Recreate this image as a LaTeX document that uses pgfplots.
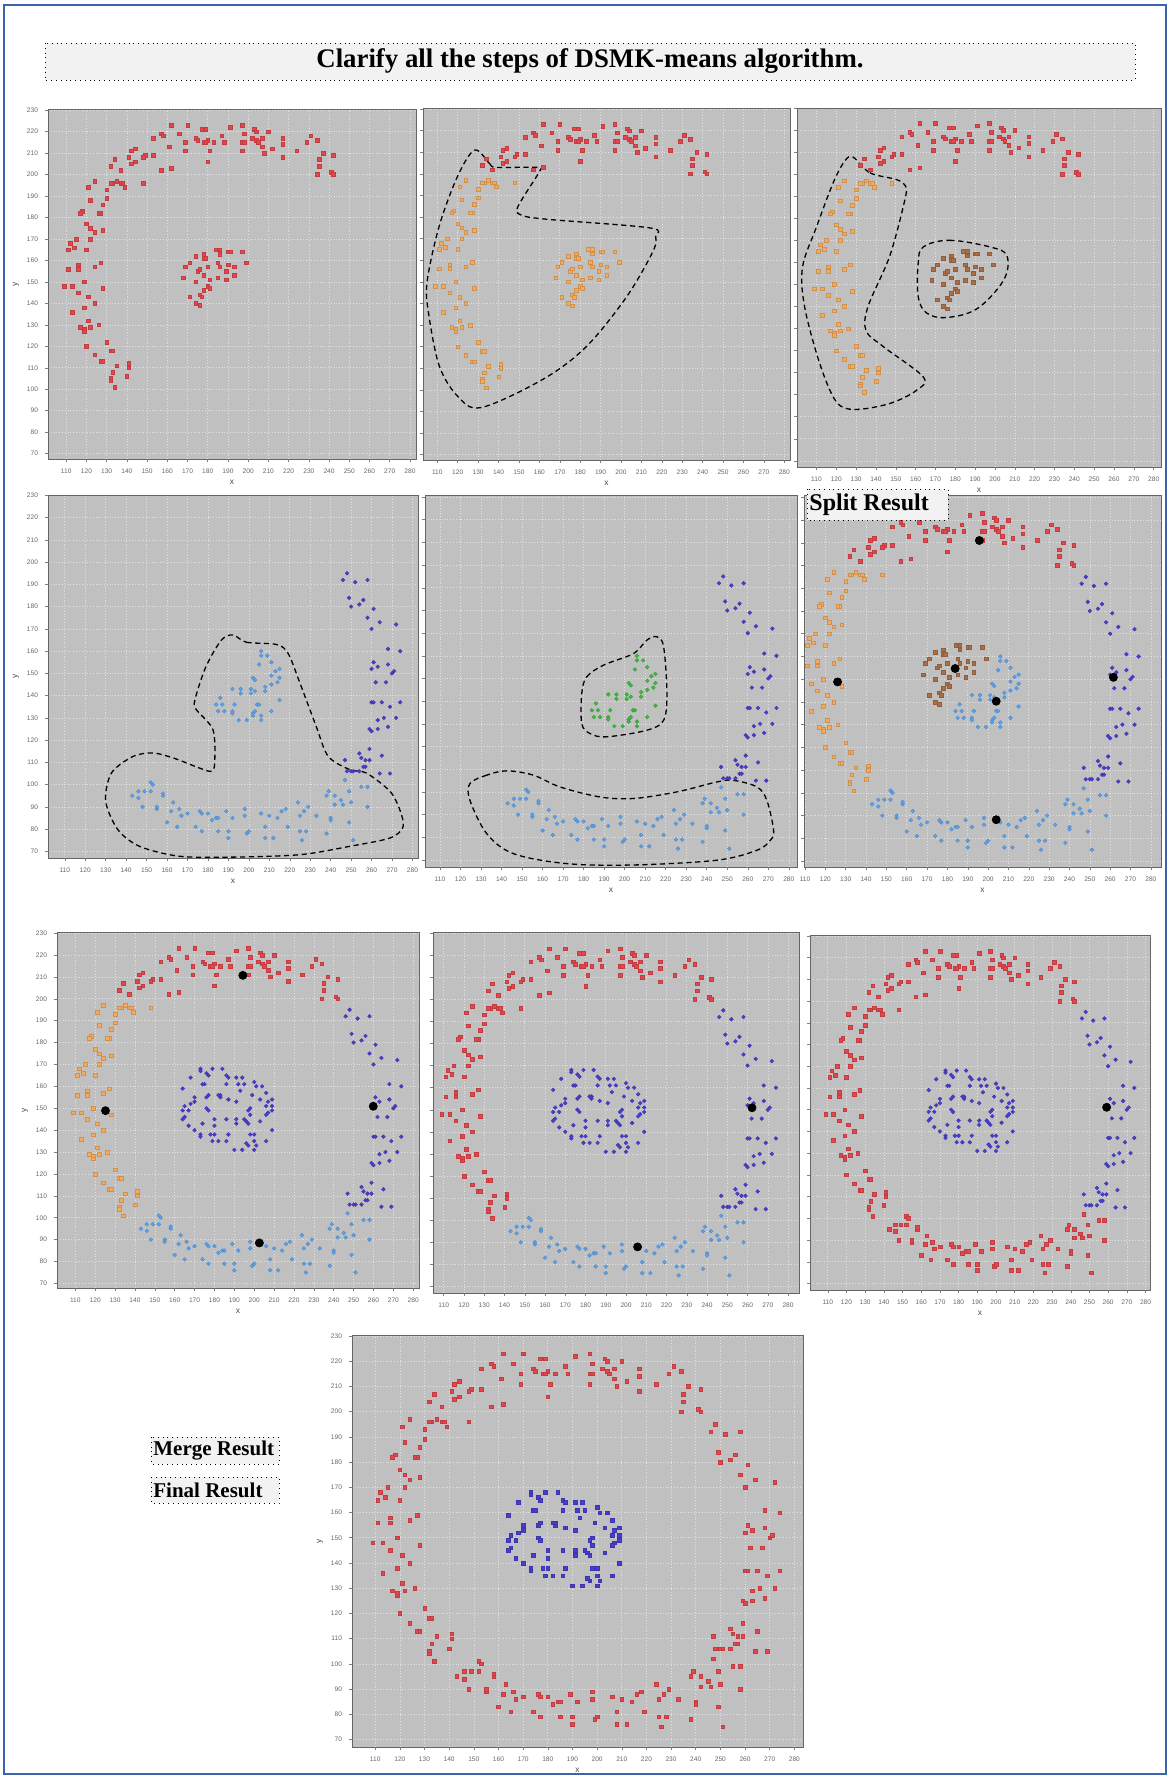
\documentclass[border=0pt]{standalone}
\usepackage{fontspec}
\setmainfont{Liberation Serif}
\newfontfamily\tickfont{Liberation Sans}
\usepackage{pgfplots}
\pgfplotsset{compat=1.18}
\usepackage{pgfplotstable}
\definecolor{bgc}{RGB}{192,192,192}
\definecolor{cred}{RGB}{228,70,78}
\definecolor{corange}{RGB}{245,170,92}
\definecolor{cbrown}{RGB}{172,110,70}
\definecolor{clblue}{RGB}{92,162,236}
\definecolor{cdblue}{RGB}{72,62,205}
\definecolor{cgreen}{RGB}{62,186,62}
\definecolor{frameblue}{RGB}{60,100,170}

% top arc
\pgfplotstableread{
x y
162 223
170 223
197 223
157 219
158 218
153 217
166 219
177 221
179 221
174 217
175 216
169 215
169 211
161 213
157 202
162 203
153 209
149 209
148 208
144 212
142 211
141 208
144 206
142 205
134 207
132 204
137 202
178 215
180 216
179 215
183 215
181 211
180 206
187 218
188 215
191 222
198 219
197 215
198 215
197 211
202 217
203 221
204 220
204 216
205 215
207 217
207 213
208 210
210 220
212 212
217 214
217 217
217 208
224 211
229 215
231 218
234 216
237 210
235 207
235 204
234 200
242 209
241 201
242 200
}\tabA
% left arc
\pgfplotstableread{
x y
133 196
132 196
135 197
137 196
138 196
139 194
148 196
124 197
121 194
130 193
130 189
122 188
128 186
127 182
126 182
118 183
117 182
120 177
122 175
124 173
128 174
122 170
115 170
112 168
114 166
111 165
120 165
116 158
116 156
111 156
124 157
127 159
109 148
113 148
119 150
116 145
121 143
128 147
124 140
113 136
119 138
121 132
117 129
119 128
119 127
122 129
126 130
130 122
132 118
133 118
120 120
124 116
127 113
128 113
135 111
133 108
141 112
141 110
132 105
132 104
140 106
134 101
}\tabB
% blob, upper-left part
\pgfplotstableread{
x y
168 152
169 157
171 159
174 162
171 143
174 150
174 140
176 144
177 143
176 139
175 155
176 156
178 163
178 161
179 161
178 153
178 146
180 157
180 148
181 147
181 151
184 165
186 165
186 163
185 159
186 157
185 152
190 164
191 164
189 155
189 151
190 158
193 157
193 153
197 164
199 159
}\tabC
% bottom arc
\pgfplotstableread{
x y
143 95
146 97
146 94
149 97
148 90
152 101
153 100
152 97
155 89
155 90
158 95
158 96
160 83
162 88
163 92
165 81
166 89
167 86
170 87
174 81
176 88
177 87
177 79
180 87
182 84
184 85
185 85
185 79
189 88
190 79
190 76
192 85
198 89
198 86
199 78
200 79
206 87
208 81
208 76
210 86
212 76
214 85
216 88
218 89
219 81
224 92
225 86
225 79
228 79
226 75
227 88
229 90
233 86
238 95
239 97
238 78
240 85
240 84
242 91
242 95
245 93
246 91
247 102
249 97
250 92
249 83
251 75
255 99
258 99
258 90
}\tabD
% blob, lower-right part
\pgfplotstableread{
x y
206 160
206 158
209 158
211 155
205 154
213 151
215 152
211 149
215 148
214 146
211 145
202 148
203 147
208 144
208 142
215 138
192 143
196 143
196 141
201 143
201 141
203 142
186 139
184 136
187 136
185 133
188 133
192 133
192 132
193 136
195 129
199 129
202 132
202 131
203 133
204 136
205 136
206 131
206 129
211 133
}\tabE
% right arc
\pgfplotstableread{
x y
246 192
248 195
252 191
258 192
249 184
250 180
254 181
256 183
258 175
261 179
260 170
264 173
272 172
268 161
274 160
261 155
260 152
263 153
268 154
270 150
271 151
262 146
267 146
260 137
261 137
265 137
269 135
274 137
263 129
266 130
268 126
272 130
259 125
260 124
263 125
259 116
265 113
254 114
255 112
256 108
257 108
257 111
259 111
247 111
248 106
250 106
251 106
254 106
264 105
269 105
}\tabF
% full blob
\pgfplotstableread{
x y
164 159
168 164
173 168
173 167
176 166
177 165
179 168
184 168
174 161
175 161
186 165
187 164
191 164
194 164
192 161
195 161
186 161
193 158
200 162
201 160
204 160
199 156
206 157
203 154
207 153
209 154
206 151
209 151
209 149
207 148
206 147
203 144
209 140
198 150
197 149
198 147
195 145
196 144
197 143
191 145
191 143
186 145
180 145
180 142
178 138
180 138
179 135
182 135
186 135
187 138
190 131
194 131
197 133
196 134
200 135
200 131
201 133
206 135
198 138
200 138
183 155
183 156
182 156
187 154
191 153
176 155
177 156
176 150
177 149
170 155
170 153
168 152
167 149
165 151
164 149
165 146
164 145
167 142
170 140
173 138
173 137
174 143
}\tabG
% centroids
\pgfplotstableread{
x y
195.7 211
126 148.8
183.8 154.7
204 140.3
261.6 150.8
204 88.2
}\cenSplit
\pgfplotstableread{
x y
194.3 210.7
125.2 148.9
259.9 150.9
202.6 88.5
}\cenA
\pgfplotstableread{
x y
262.2 150.9
205.7 87.9
}\cenB
\pgfplotstableread{
x y
259.2 151.1
}\cenC

\pgfplotsset{
 panel/.style={scale only axis, anchor=north west,
  xmin=101, xmax=283, ymin=67.5, ymax=230.5,
  axis background/.style={fill=bgc},
  xtick={110,120,...,280}, ytick={70,80,...,230},
  grid=major, major grid style={white, opacity=0.55, densely dotted, line width=0.3pt},
  tick pos=left, tick align=outside, major tick length=1.5pt,
  tick style={black!50, line width=0.25pt},
  axis line style={black!60, line width=0.4pt},
  tick label style={font=\tickfont\fontsize{3.3}{3.7}\selectfont, text=black!60},
  /pgf/number format/assume math mode=true,
  xlabel={x}, ylabel={y},
  label style={font=\tickfont\fontsize{4.2}{4.6}\selectfont, text=black!70},
  xlabel style={yshift=3.5pt}, ylabel style={yshift=-3pt},
 },
 noy/.style={yticklabel=\empty, ylabel={}},
 sq/.style={only marks, mark=square*, mark size=0.9pt, mark options={draw=#1!85!black, fill=#1, line width=0.2pt}},
 ci/.style={only marks, mark=*, mark size=0.95pt, mark options={draw=#1!85!black, fill=#1, line width=0.2pt}},
 cen/.style={only marks, mark=*, mark size=2pt, mark options={draw=black, fill=black}},
}
\tikzset{contour/.style={black, line width=0.65pt, dash pattern=on 2.6pt off 1.8pt}}

\begin{document}
\begin{tikzpicture}
\useasboundingbox (0,0) rectangle (585pt,-889pt);
\draw[frameblue, line width=0.9pt] (2pt,-2.5pt) rectangle (583pt,-887pt);

% title
\draw[black, dotted, line width=0.4pt, fill={rgb,255:red,242;green,242;blue,242}] (22.5pt,-21.5pt) rectangle (567.5pt,-40pt);
\node[font=\bfseries\fontsize{13.4}{15}\selectfont] at (295pt,-30.75pt) {Clarify all the steps of DSMK-means algorithm.};

% Panel 1
\begin{axis}[panel, at={(24pt,-54.5pt)}, width=184pt, height=175pt]
\addplot[sq=cred] table {\tabA};
\addplot[sq=cred] table {\tabB};
\addplot[sq=cred] table {\tabC};
\end{axis}

% Panel 2
\begin{axis}[panel, noy, at={(211.5pt,-54pt)}, width=183.5pt, height=176pt, xmin=103, xmax=282.8]
\addplot[sq=cred] table {\tabA};
\addplot[sq=corange] table {\tabB};
\addplot[sq=corange] table {\tabC};
\draw[contour] plot[smooth cycle, tension=0.55] coordinates {(128.3,211) (135.7,204.7) (139,203) (159,203) (160,201) (149.6,185) (151,181) (163.5,179) (214,175) (217,171) (215.6,164) (202.7,143) (183,120) (162,105) (131.6,91.8) (120,97) (111,111) (105.8,135) (105,150) (111,176) (120,199)};
\end{axis}

% Panel 3
\begin{axis}[panel, noy, at={(398.5pt,-54pt)}, width=182pt, height=179.5pt, xmin=100.2, xmax=283.7, ymin=67.2, ymax=230]
\addplot[sq=cred] table {\tabA};
\addplot[sq=corange] table {\tabB};
\addplot[sq=cbrown] table {\tabC};
\draw[contour] plot[smooth cycle, tension=0.55] coordinates {(128.5,207.7) (137,200.6) (150.5,197.5) (155,194.5) (154.6,188.5) (147,163) (136,140) (135,129) (143.7,121.8) (163.9,108) (160.5,102) (147,96) (129.4,93.3) (120,96.8) (111.7,114) (104,140) (103,158) (110,176) (118.4,196) (124.3,206)};
\draw[contour] plot[smooth cycle, tension=0.6] coordinates {(163.9,167) (177,170) (197.5,167) (206,163) (204.4,152) (191,139) (175.6,135) (165.6,137) (161.3,144.5) (161.3,159.7)};
\end{axis}

% Panel 4
\begin{axis}[panel, at={(24pt,-247.5pt)}, width=185pt, height=181.5pt, xmin=101.8, xmax=282.7, ymin=67, ymax=230.2]
\addplot[ci=clblue] table {\tabD};
\addplot[ci=clblue] table {\tabE};
\addplot[ci=cdblue] table {\tabF};
\draw[contour] plot[smooth cycle, tension=0.5] coordinates {(192.3,167.3) (198.8,164) (213.5,163) (219.2,159) (225,145.6) (233,126) (238.8,112.7) (249.4,106.7) (257.5,105.2) (269,97) (273.8,88.7) (275.4,81) (269,76) (249,72.2) (225,68.5) (192.3,67.4) (166,67.8) (146.7,72.2) (136,79.7) (130,92.5) (132.8,105.2) (143.4,112.7) (153.2,114.2) (163,112) (176,107.4) (181.7,106) (183.3,109.7) (182.5,124.6) (174.4,133.6) (173.6,138) (179,153) (186.6,165)};
\end{axis}

% Panel 5
\begin{axis}[panel, noy, at={(212.5pt,-247.5pt)}, width=186pt, height=186pt, xmin=102.7, xmax=284, ymin=66.9, ymax=230.9]
\addplot[ci=clblue] table {\tabD};
\addplot[ci=cgreen] table {\tabE};
\addplot[ci=cdblue] table {\tabF};
\draw[contour] plot[smooth cycle, tension=0.55] coordinates {(179.1,143.4) (181.5,150.7) (189.7,155.9) (204.3,161) (210.8,166.9) (215.7,168.4) (219,164) (220.6,143.4) (219,131.6) (210.8,127.2) (191.3,124.3) (183.2,125.7) (179.1,130.1)};
\draw[contour] plot[smooth cycle, tension=0.55] coordinates {(142.5,109.3) (132.8,107.4) (124.6,103.7) (124.6,96.3) (132.8,81.6) (145.8,72.8) (171.8,68.4) (204.3,67.8) (245,69.9) (264.5,74.3) (271,78.7) (272.6,83.1) (269.3,96.3) (264.5,102.2) (253,105.1) (245,104.4) (225.4,100) (204.3,97.1) (187.9,97.8) (168.5,102.2) (155.5,107.4)};
\end{axis}

% Panel 6 (split)
\begin{axis}[panel, noy, at={(402pt,-247.5pt)}, width=178.5pt, height=186pt, xmin=109.5, xmax=285, ymin=67.4, ymax=231]
\addplot[sq=cred] table {\tabA};
\addplot[sq=corange] table {\tabB};
\addplot[sq=cbrown] table {\tabC};
\addplot[ci=clblue] table {\tabD};
\addplot[ci=clblue] table {\tabE};
\addplot[ci=cdblue] table {\tabF};
\addplot[cen] table {\cenSplit};
\end{axis}

% Panel 7
\begin{axis}[panel, at={(28.5pt,-466pt)}, width=181pt, height=178pt, xmin=100.8, xmax=282.9, ymin=67.9, ymax=230.5]
\addplot[sq=cred] table {\tabA};
\addplot[sq=corange] table {\tabB};
\addplot[ci=clblue] table {\tabD};
\addplot[ci=cdblue] table {\tabF};
\addplot[ci=cdblue] table {\tabG};
\addplot[cen] table {\cenA};
\end{axis}

% Panel 8
\begin{axis}[panel, noy, xlabel={}, at={(216.5pt,-466pt)}, width=183pt, height=180.5pt, xmin=104.7, xmax=285.4, ymin=67, ymax=230.5]
\addplot[sq=cred] table {\tabA};
\addplot[sq=cred] table {\tabB};
\addplot[ci=clblue] table {\tabD};
\addplot[ci=cdblue] table {\tabF};
\addplot[ci=cdblue] table {\tabG};
\addplot[cen] table {\cenB};
\end{axis}

% Panel 9
\begin{axis}[panel, noy, at={(405pt,-467.5pt)}, width=170pt, height=177.5pt, xmin=100.5, xmax=282.4, ymin=67, ymax=230.4]
\addplot[sq=cred] table {\tabA};
\addplot[sq=cred] table {\tabB};
\addplot[sq=cred] table {\tabD};
\addplot[ci=cdblue] table {\tabF};
\addplot[ci=cdblue] table {\tabG};
\addplot[cen] table {\cenC};
\end{axis}

% Panel 10
\begin{axis}[panel, at={(176pt,-667.5pt)}, width=225.5pt, height=206pt, xmin=100.6, xmax=283.5, ymin=67, ymax=230.4]
\addplot[sq=cred] table {\tabA};
\addplot[sq=cred] table {\tabB};
\addplot[sq=cred] table {\tabD};
\addplot[sq=cred] table {\tabF};
\addplot[sq=cdblue] table {\tabG};
\end{axis}

% labels
\draw[black, dotted, line width=0.4pt, fill={rgb,255:red,242;green,242;blue,242}] (403.5pt,-244.5pt) rectangle (474pt,-260pt);
\node[anchor=west, font=\bfseries\fontsize{12}{13}\selectfont, inner sep=0pt] at (404.5pt,-252.5pt) {Split Result};
\draw[black, dotted, line width=0.4pt, fill={rgb,255:red,242;green,242;blue,242}] (75.5pt,-718.5pt) rectangle (139.5pt,-732pt);
\node[anchor=west, font=\bfseries\fontsize{10.5}{12}\selectfont, inner sep=0pt] at (76.5pt,-725.5pt) {Merge Result};
\draw[black, dotted, line width=0.4pt, fill={rgb,255:red,242;green,242;blue,242}] (75.5pt,-738.5pt) rectangle (139.5pt,-751.5pt);
\node[anchor=west, font=\bfseries\fontsize{10.5}{12}\selectfont, inner sep=0pt] at (76.5pt,-745.3pt) {Final Result};
\end{tikzpicture}
\end{document}
